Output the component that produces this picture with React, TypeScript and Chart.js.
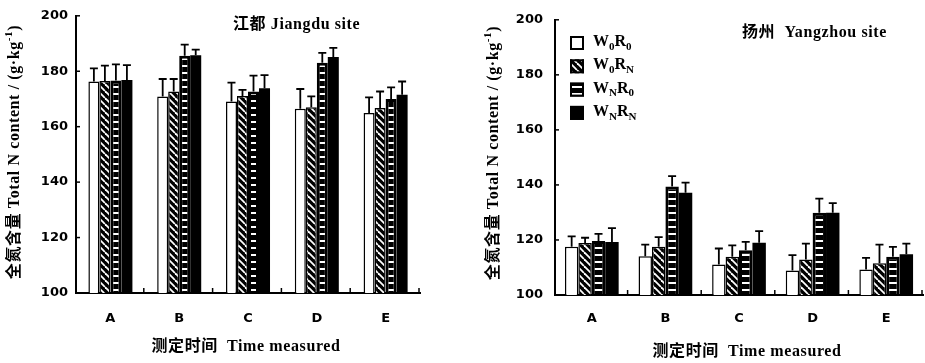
import React, { useEffect, useRef } from "react";
import { Chart, registerables } from "chart.js";
Chart.register(...registerables);

// ---------- data ----------
const categories = ["A", "B", "C", "D", "E"];
const yMin = 100;
const yMax = 200;
const yStep = 20;

// Jiangdu site (left)
const jiangduW0R0 = [176.3, 170.9, 169.1, 166.5, 164.9];
const jiangduW0RN = [176.5, 172.7, 171.1, 167.0, 166.7];
const jiangduWNR0 = [176.7, 185.6, 172.7, 183.1, 170.0];
const jiangduWNRN = [176.8, 185.8, 173.9, 185.1, 171.5];
const jiangduErrW0R0 = [4.7, 6.3, 6.8, 7.1, 5.7];
const jiangduErrW0RN = [5.5, 4.5, 2.2, 3.9, 6.0];
const jiangduErrWNR0 = [5.8, 4.0, 5.7, 3.5, 4.2];
const jiangduErrWNRN = [5.4, 2.0, 4.7, 3.3, 4.8];

// Yangzhou site (right)
const yangzhouW0R0 = [117.5, 114.1, 111.1, 108.9, 109.3];
const yangzhouW0RN = [118.9, 117.5, 113.9, 112.9, 111.5];
const yangzhouWNR0 = [119.6, 139.4, 116.3, 129.9, 113.9];
const yangzhouWNRN = [119.3, 137.2, 119.0, 129.9, 114.8];
const yangzhouErrW0R0 = [3.8, 4.2, 5.8, 5.6, 4.2];
const yangzhouErrW0RN = [1.9, 3.5, 4.1, 5.8, 6.8];
const yangzhouErrWNR0 = [2.6, 3.8, 3.0, 5.1, 3.6];
const yangzhouErrWNRN = [5.0, 3.6, 4.2, 3.5, 3.9];

// legend labels: main letters + subscripts
const legendMain = [["W", "R"], ["W", "R"], ["W", "R"], ["W", "R"]];
const legendSubs = [["0", "0"], ["0", "N"], ["N", "0"], ["N", "N"]];

const yTitleMain = "全氮含量 Total N content / (g·kg";
const yTitleSup = "-1";
const yTitleEnd = ")";
const xTitleText = "测定时间  Time measured";
const leftTitle = "江都 Jiangdu site";
const rightTitle = "扬州  Yangzhou site";

const SERIF = "'Liberation Serif', 'Noto Sans CJK SC', serif";
const SANS = "'DejaVu Sans', 'Liberation Sans', sans-serif";

type Seg = { t: string; k?: "sub" | "sup" };

function drawRich(ctx: CanvasRenderingContext2D, segs: Seg[], x: number, y: number, size: number, center: boolean) {
  const small = Math.round(size * 0.68);
  const fontFor = (s: Seg) => `bold ${s.k ? small : size}px ${SERIF}`;
  let w = 0;
  for (const s of segs) {
    ctx.font = fontFor(s);
    w += ctx.measureText(s.t).width;
  }
  let cx = center ? x - w / 2 : x;
  ctx.textBaseline = "middle";
  ctx.textAlign = "left";
  for (const s of segs) {
    ctx.font = fontFor(s);
    const dy = s.k === "sub" ? size * 0.3 : s.k === "sup" ? -size * 0.35 : 0;
    ctx.fillText(s.t, cx, y + dy);
    cx += ctx.measureText(s.t).width;
  }
}

function hatchPattern(ctx: CanvasRenderingContext2D) {
  const c = document.createElement("canvas");
  c.width = 7;
  c.height = 7;
  const g = c.getContext("2d")!;
  g.fillStyle = "#000";
  g.fillRect(0, 0, 7, 7);
  g.strokeStyle = "#fff";
  g.lineWidth = 1.8;
  for (const k of [-7, 0, 7]) {
    g.beginPath();
    g.moveTo(k, 0);
    g.lineTo(k + 7, 7);
    g.stroke();
  }
  return ctx.createPattern(c, "repeat")!;
}

function stripePattern(ctx: CanvasRenderingContext2D) {
  const c = document.createElement("canvas");
  c.width = 4;
  c.height = 7;
  const g = c.getContext("2d")!;
  g.fillStyle = "#000";
  g.fillRect(0, 0, 4, 7);
  g.fillStyle = "#fff";
  g.fillRect(0, 2, 4, 2);
  return ctx.createPattern(c, "repeat")!;
}

type PanelCfg = {
  width: number;
  left: number;
  padTop: number;
  padRight: number;
  yWidth: number;
  xHeight: number;
  catPct: number;
  yPad: number;
  xPad: number;
  series: number[][];
  errs: number[][];
  title: string;
  titleX: number;
  titleY: number;
  yTitleX: number;
  yTitleY: number;
  xTitleX: number;
  xTitleY: number;
  legend: null | { x: number; y0: number; dy: number };
};

function Panel({ cfg }: { cfg: PanelCfg }) {
  const ref = useRef<HTMLCanvasElement | null>(null);
  useEffect(() => {
    const canvas = ref.current!;
    const ctx = canvas.getContext("2d")!;
    const fills: (string | CanvasPattern)[] = ["#fff", hatchPattern(ctx), stripePattern(ctx), "#000"];
    const borders = [1.5, 1.5, 3, 0];

    const decor = {
      id: "decor",
      afterDatasetsDraw(chart: any) {
        const c = chart.ctx as CanvasRenderingContext2D;
        const ys = chart.scales.y;
        const area = chart.chartArea;
        c.save();
        // error bars
        c.strokeStyle = "#000";
        c.lineWidth = 1.8;
        cfg.series.forEach((vals, i) => {
          const meta = chart.getDatasetMeta(i);
          meta.data.forEach((el: any, j: number) => {
            const top = ys.getPixelForValue(vals[j] + cfg.errs[i][j]);
            c.beginPath();
            c.moveTo(el.x, el.y);
            c.lineTo(el.x, top);
            c.moveTo(el.x - 4, top);
            c.lineTo(el.x + 4, top);
            c.stroke();
          });
        });
        // inward ticks on y axis
        c.lineWidth = 1.5;
        for (let v = yMin; v <= yMax; v += yStep) {
          const py = ys.getPixelForValue(v);
          c.beginPath();
          c.moveTo(area.left, py);
          c.lineTo(area.left + 4, py);
          c.stroke();
        }
        // inward ticks at category boundaries
        const cw = (area.right - area.left) / categories.length;
        for (let i = 1; i <= categories.length; i++) {
          const px = area.left + cw * i - 1;
          c.beginPath();
          c.moveTo(px, area.bottom);
          c.lineTo(px, area.bottom - 5);
          c.stroke();
        }
        c.fillStyle = "#000";
        // panel title
        (c as any).letterSpacing = "0.6px";
        drawRich(c, [{ t: cfg.title }], cfg.titleX, cfg.titleY, 16, false);
        // x title
        drawRich(c, [{ t: xTitleText }], cfg.xTitleX, cfg.xTitleY, 16, true);
        // y title rotated
        c.save();
        c.translate(cfg.yTitleX, cfg.yTitleY);
        c.rotate(-Math.PI / 2);
        drawRich(c, [{ t: yTitleMain }, { t: yTitleSup, k: "sup" }, { t: yTitleEnd }], 0, 0, 16, true);
        c.restore();
        (c as any).letterSpacing = "0px";
        // legend
        if (cfg.legend) {
          const L = cfg.legend;
          for (let i = 0; i < 4; i++) {
            const cy = L.y0 + L.dy * i;
            const bx = L.x;
            const by = cy - 7;
            c.fillStyle = fills[i] as any;
            c.fillRect(bx, by, 14, 14);
            c.strokeStyle = "#000";
            c.lineWidth = 2;
            c.strokeRect(bx + 1, by + 1, 12, 12);
            c.fillStyle = "#000";
            drawRich(
              c,
              [
                { t: legendMain[i][0] },
                { t: legendSubs[i][0], k: "sub" },
                { t: legendMain[i][1] },
                { t: legendSubs[i][1], k: "sub" },
              ],
              bx + 23,
              cy - 1,
              16,
              false
            );
          }
        }
        c.restore();
      },
    };

    const chart = new Chart(ctx, {
      type: "bar",
      data: {
        labels: categories,
        datasets: cfg.series.map((vals, i) => ({
          label: ["W0R0", "W0RN", "WNR0", "WNRN"][i],
          data: vals,
          backgroundColor: fills[i] as any,
          borderColor: "#000",
          borderWidth: borders[i],
          barPercentage: 1,
          categoryPercentage: cfg.catPct,
        })),
      },
      options: {
        responsive: false,
        animation: false,
        devicePixelRatio: 1,
        layout: { padding: { top: cfg.padTop, right: cfg.padRight, left: 0, bottom: 0 } },
        plugins: { legend: { display: false }, tooltip: { enabled: false }, title: { display: false } },
        scales: {
          x: {
            grid: { display: false, drawTicks: false },
            border: { display: true, color: "#000", width: 2 },
            ticks: { color: "#000", font: { family: SANS, size: 13, weight: "bold" }, padding: cfg.xPad },
            afterFit: (s: any) => {
              s.height = cfg.xHeight;
            },
          },
          y: {
            min: yMin,
            max: yMax,
            grid: { display: false, drawTicks: false },
            border: { display: true, color: "#000", width: 2 },
            ticks: { stepSize: yStep, color: "#000", font: { family: SANS, size: 13, weight: "bold" }, padding: cfg.yPad },
            afterFit: (s: any) => {
              s.width = cfg.yWidth;
            },
          },
        },
      } as any,
      plugins: [decor],
    });
    return () => chart.destroy();
  }, [cfg]);
  return (
    <canvas
      ref={ref}
      width={cfg.width}
      height={363}
      style={{ position: "absolute", left: cfg.left, top: 0, width: cfg.width, height: 363, display: "block" }}
    />
  );
}

const leftCfg: PanelCfg = {
  width: 465,
  left: 0,
  padTop: 14,
  padRight: 45,
  yWidth: 76,
  xHeight: 70,
  catPct: 0.64,
  yPad: 8,
  xPad: 18,
  series: [jiangduW0R0, jiangduW0RN, jiangduWNR0, jiangduWNRN],
  errs: [jiangduErrW0R0, jiangduErrW0RN, jiangduErrWNR0, jiangduErrWNRN],
  title: leftTitle,
  titleX: 233,
  titleY: 25,
  yTitleX: 15,
  yTitleY: 152,
  xTitleX: 246,
  xTitleY: 347,
  legend: null,
};

const rightCfg: PanelCfg = {
  width: 460,
  left: 465,
  padTop: 17,
  padRight: 2,
  yWidth: 90,
  xHeight: 68,
  catPct: 0.73,
  yPad: 12,
  xPad: 16,
  series: [yangzhouW0R0, yangzhouW0RN, yangzhouWNR0, yangzhouWNRN],
  errs: [yangzhouErrW0R0, yangzhouErrW0RN, yangzhouErrWNR0, yangzhouErrWNRN],
  title: rightTitle,
  titleX: 277,
  titleY: 33,
  yTitleX: 29,
  yTitleY: 153,
  xTitleX: 282,
  xTitleY: 352,
  legend: { x: 105, y0: 43, dy: 23.3 },
};

export default function App() {
  return (
    <div style={{ position: "absolute", left: 0, top: 0, width: 925, height: 363, background: "#fff", overflow: "hidden" }}>
      <Panel cfg={leftCfg} />
      <Panel cfg={rightCfg} />
    </div>
  );
}
